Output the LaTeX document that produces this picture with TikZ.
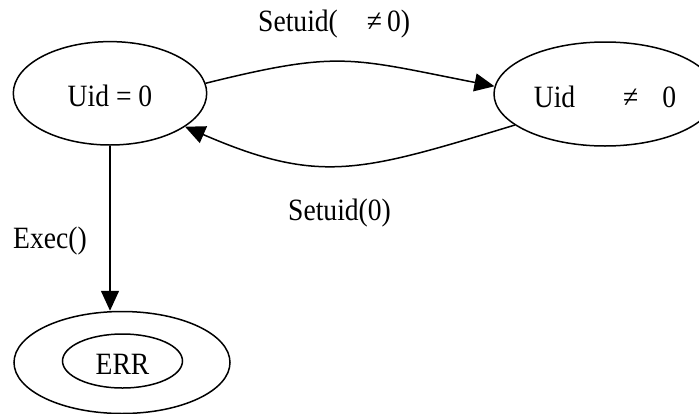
\documentclass[tikz,border=0pt]{standalone}
\usepackage{fontspec}
\setmainfont{Liberation Serif}[FakeStretch=0.89]
\usetikzlibrary{arrows.meta,shapes.geometric}
\begin{document}
\begin{tikzpicture}[x=1pt,y=-1pt,
  txt/.style={font=\fontsize{31}{37}\selectfont},
  state/.style={txt, draw, ellipse, line width=1.5pt, inner sep=0pt,
                text height=27.3pt, text depth=0pt},
  lbl/.style={txt, anchor=base west, inner sep=0pt},
  link/.style={line width=1.5pt, -{Triangle[length=20pt,width=18pt]}}]
\useasboundingbox (0,0) rectangle (699,413);

% states
\node[state, minimum width=193.4pt, minimum height=103.4pt] (root) at (110,93.3) {Uid = 0};
\node[state, minimum width=222pt, minimum height=104pt] (user) at (605,94)
  {Uid\hspace{48pt}≠\hspace{24pt}0\hspace{5pt}};
\node[state, minimum width=216pt, minimum height=102pt] (errbox) at (122,362.5) {};
\node[state, minimum width=120pt, minimum height=54pt] (err) at (122.5,361) {ERR};

% transitions
\draw[link] (root.6) .. controls (340,50) and (350,58) .. (user.176);
\draw[link] (user.199) .. controls (360,172) and (320,185) .. (root.336);
\draw[link] (root.south) -- (root.south |- errbox.north);

% transition labels
\node[lbl] (lup) at (258,31) {Setuid(\hspace{29pt}≠\hspace{5pt}0)};
\node[lbl] (ldown) at (288,220) {Setuid(0)};
\node[lbl] (lexec) at (13,248) {Exec()};
\end{tikzpicture}
\end{document}
